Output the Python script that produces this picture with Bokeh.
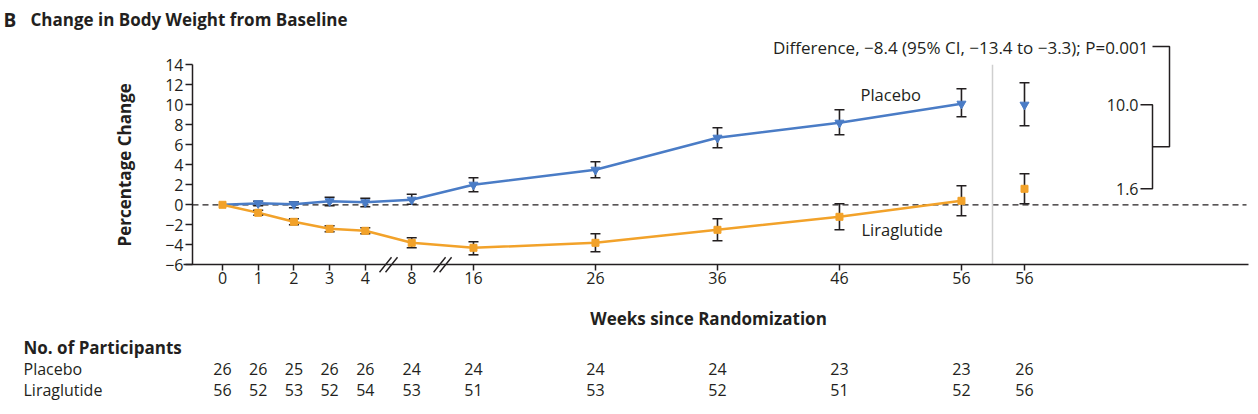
from bokeh.plotting import figure
from bokeh.models import LinearAxis, FixedTicker, Range1d, Grid
from bokeh.core.properties import value
from bokeh.embed import file_html
from bokeh.resources import INLINE
import math

# ---------------- data ----------------
weeks = [0, 1, 2, 3, 4, 8, 16, 26, 36, 46, 56]
week_labels = ["0", "1", "2", "3", "4", "8", "16", "26", "36", "46", "56"]

placebo_mean = [0.0, 0.15, 0.05, 0.35, 0.25, 0.5, 2.0, 3.5, 6.7, 8.2, 10.1]
placebo_lo = [0.0, -0.1, -0.3, -0.1, -0.2, 0.05, 1.3, 2.7, 5.7, 7.0, 8.8]
placebo_hi = [0.0, 0.35, 0.3, 0.75, 0.65, 1.05, 2.7, 4.3, 7.7, 9.5, 11.6]

lira_mean = [0.0, -0.8, -1.7, -2.4, -2.6, -3.8, -4.3, -3.8, -2.5, -1.2, 0.4]
lira_lo = [0.0, -1.05, -2.0, -2.7, -2.9, -4.3, -5.0, -4.7, -3.6, -2.5, -1.1]
lira_hi = [0.0, -0.55, -1.4, -2.1, -2.3, -3.3, -3.7, -2.9, -1.4, 0.1, 1.9]

# adjusted week-56 estimates (separate column)
final_label = "56"
placebo_final = 10.0
placebo_final_ci = (7.9, 12.2)
lira_final = 1.6
lira_final_ci = (0.1, 3.1)

difference_text = "Difference, \u22128.4 (95% CI, \u221213.4 to \u22123.3); P=0.001"

placebo_n = [26, 26, 25, 26, 26, 24, 24, 24, 24, 23, 23, 26]
lira_n = [56, 52, 53, 52, 54, 53, 51, 53, 52, 51, 52, 56]

y_ticks = [-6, -4, -2, 0, 2, 4, 6, 8, 10, 12, 14]

# ---------------- layout helpers (broken axis) ----------------
PXU = 35.7      # pixels per axis unit (x)
PYU = 10.0      # pixels per percentage point (y)
X0_PAGE = 222.0 # page x of week 0
Y0_PAGE = 204.3 # page y of 0 %
ORIGIN = 0      # page offset of the canvas


def pos(w):
    if w <= 4:
        return float(w)
    if w == 8:
        return 5.3
    return 7.03 + (w - 16) * (12.2 / PXU)


def px(xp):
    return (xp - X0_PAGE) / PXU


def py(yp):
    return (Y0_PAGE - yp) / PYU


xs = [round(pos(w), 3) for w in weeks]
x_final = round(px(1024), 3)
x_all = xs + [x_final]
labels_all = week_labels + [final_label]

W, H = 1250, 406
p = figure(width=W, height=H,
           x_range=Range1d(px(ORIGIN), px(ORIGIN + W)), y_range=Range1d(py(ORIGIN + H), py(ORIGIN)),
           output_backend="svg", toolbar_location=None,
           x_axis_location=None, y_axis_location=None,
           min_border=0, outline_line_color=None)
p.background_fill_color = "white"
p.border_fill_color = "white"
for r in list(p.center):
    if isinstance(r, Grid):
        r.visible = False

FONTNAME = "Open Sans"
FONT = value(FONTNAME)
INK = "#231f20"
BLUE = "#4a7cc6"
ORANGE = "#f2a22a"

yaxis_x = px(192)
x_axis_start = px(183)
x_axis_end = px(1248)

# zero dashed reference line
p.segment(x0=[yaxis_x], y0=[0], x1=[px(1246)], y1=[0], line_color=INK,
          line_width=1.3, line_dash="6 4")
# divider before the adjusted estimate column
p.segment(x0=[px(992)], y0=[-6], x1=[px(992)], y1=[14], line_color="#cfcfcf", line_width=1.5)

# series lines
p.line(xs, placebo_mean, line_color=BLUE, line_width=2.5)
p.line(xs, lira_mean, line_color=ORANGE, line_width=2.5)


def errbars(xv, lo, hi):
    x_e = [x for x, l, h in zip(xv, lo, hi) if h > l]
    lo_e = [l for l, h in zip(lo, hi) if h > l]
    hi_e = [h for l, h in zip(lo, hi) if h > l]
    p.segment(x0=x_e, y0=lo_e, x1=x_e, y1=hi_e, line_color=INK, line_width=1.6)
    p.scatter(x_e + x_e, lo_e + hi_e, marker="dash", size=10, line_color=INK, line_width=1.6)


errbars(xs + [x_final], placebo_lo + [placebo_final_ci[0]], placebo_hi + [placebo_final_ci[1]])
errbars(xs + [x_final], lira_lo + [lira_final_ci[0]], lira_hi + [lira_final_ci[1]])

# markers
p.scatter(xs[1:] + [x_final], placebo_mean[1:] + [placebo_final], marker="inverted_triangle",
          size=9, fill_color=BLUE, line_color=BLUE)
p.scatter(xs + [x_final], lira_mean + [lira_final], marker="square", size=7,
          fill_color=ORANGE, line_color=ORANGE)

# axis break marks
for cx in [(xs[4] + xs[5]) / 2, (xs[5] + xs[6]) / 2]:
    for off in (-3, 3):
        c = cx + off / PXU
        p.segment(x0=[c - 6 / PXU], y0=[-6 - 0.75], x1=[c + 6 / PXU], y1=[-6 + 0.75],
                  line_color=INK, line_width=1.4)

# axes
yaxis = LinearAxis(fixed_location=yaxis_x, bounds=(-6, 14), ticker=FixedTicker(ticks=y_ticks),
                   major_label_overrides={t: ("\u2212" + str(-t) if t < 0 else str(t)) for t in y_ticks},
                   major_tick_out=7, major_tick_in=0, minor_tick_out=0, minor_tick_in=0,
                   axis_line_color=INK, axis_line_width=1.5, major_tick_line_color=INK,
                   major_tick_line_width=1.5, major_label_standoff=2,
                   major_label_text_font=FONTNAME, major_label_text_font_size="16px",
                   major_label_text_color=INK)
p.add_layout(yaxis, "left")

xaxis = LinearAxis(fixed_location=-6, bounds=(x_axis_start, x_axis_end),
                   ticker=FixedTicker(ticks=x_all),
                   major_label_overrides={x: l for x, l in zip(x_all, labels_all)},
                   major_tick_out=6, major_tick_in=0, minor_tick_out=0, minor_tick_in=0,
                   axis_line_color=INK, axis_line_width=1.5, major_tick_line_color=INK,
                   major_tick_line_width=1.5, major_label_standoff=1,
                   major_label_text_font=FONTNAME, major_label_text_font_size="16px",
                   major_label_text_color=INK)
p.add_layout(xaxis, "below")


def txt(x, y, s, size="16px", bold=False, align="left", angle=0.0):
    p.text(x=[x], y=[y], text=[s], text_font=FONT, text_font_size=value(size),
           text_font_style="bold" if bold else "normal", text_align=align,
           text_baseline="middle", text_color=INK, angle=angle)


# titles
txt(px(3), py(19), "B", size="19px", bold=True)
txt(px(30), py(19), "Change in Body Weight from Baseline", size="17px", bold=True)
txt(px(124), 4, "Percentage Change", size="17px", bold=True, align="center", angle=math.pi / 2)
txt(px(708), py(318), "Weeks since Randomization", size="17px", bold=True, align="center")

# series labels
txt(px(860), 11.0, "Placebo", size="16.5px")
txt(px(861), -2.5, "Liraglutide", size="16.5px")

# difference annotation and brackets
txt(px(1148), py(47), difference_text, size="17px", align="right")
mid = (placebo_final + lira_final) / 2
p.line([px(1140), px(1152), px(1152), px(1140)], [placebo_final, placebo_final, lira_final, lira_final],
       line_color=INK, line_width=1.5)
p.line([px(1152), px(1169), px(1169), px(1152)], [py(46), py(46), mid, mid],
       line_color=INK, line_width=1.5)
txt(px(1138), placebo_final, f"{placebo_final:.1f}", size="16px", align="right")
txt(px(1138), lira_final, f"{lira_final:.1f}", size="16px", align="right")

# participants table
ROW_HEAD, ROW_P, ROW_L = py(347), py(368.5), py(389)
txt(px(23), ROW_HEAD, "No. of Participants", size="17px", bold=True)
txt(px(23), ROW_P, "Placebo", size="16px")
txt(px(23), ROW_L, "Liraglutide", size="16px")
p.text(x=x_all, y=[ROW_P] * len(x_all), text=[str(n) for n in placebo_n], text_font=FONT,
       text_font_size=value("16px"), text_align="center", text_baseline="middle", text_color=INK)
p.text(x=x_all, y=[ROW_L] * len(x_all), text=[str(n) for n in lira_n], text_font=FONT,
       text_font_size=value("16px"), text_align="center", text_baseline="middle", text_color=INK)

open("out.html", "w").write(file_html(p, INLINE))
